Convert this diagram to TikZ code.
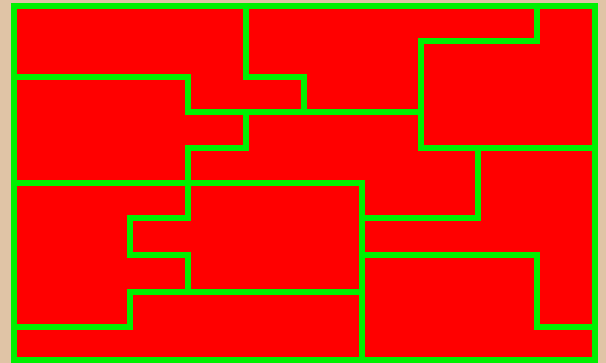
\documentclass[tikz,border=0pt]{standalone}
\usepackage{tikz}
\definecolor{sand}{RGB}{224,196,166}
\definecolor{tilered}{RGB}{255,0,0}
\definecolor{seam}{RGB}{0,240,0}

\begin{document}
\begin{tikzpicture}[
    x=1pt,
    y=-1pt,
    line join=miter,
    line cap=rect,
    seamline/.style={draw=seam, line width=6pt}
]

% background
\fill[sand] (0,0) rectangle (606,363);
\useasboundingbox (0,0) rectangle (606,363);

% board
\draw[
    seamline,
    fill=tilered
]
    (14,6) rectangle (595,360);

% top row
\draw[seamline]
    (14,77) -- (188,77) -- (188,112);

\draw[seamline]
    (246,6) -- (246,77) -- (304,77) -- (304,112);

\draw[seamline]
    (188,112) -- (421,112);

\draw[seamline]
    (537,6) -- (537,41) -- (421,41) -- (421,148) -- (595,148);

% middle
\draw[seamline]
    (246,112) -- (246,148) -- (188,148) -- (188,218)
    -- (130,218) -- (130,255) -- (188,255) -- (188,292);

\draw[seamline]
    (14,183) -- (362,183) -- (362,360);

\draw[seamline]
    (478,148) -- (478,218) -- (362,218);

% bottom row
\draw[seamline]
    (362,255) -- (537,255) -- (537,327) -- (595,327);

\draw[seamline]
    (14,327) -- (130,327) -- (130,292) -- (362,292);

\end{tikzpicture}
\end{document}
